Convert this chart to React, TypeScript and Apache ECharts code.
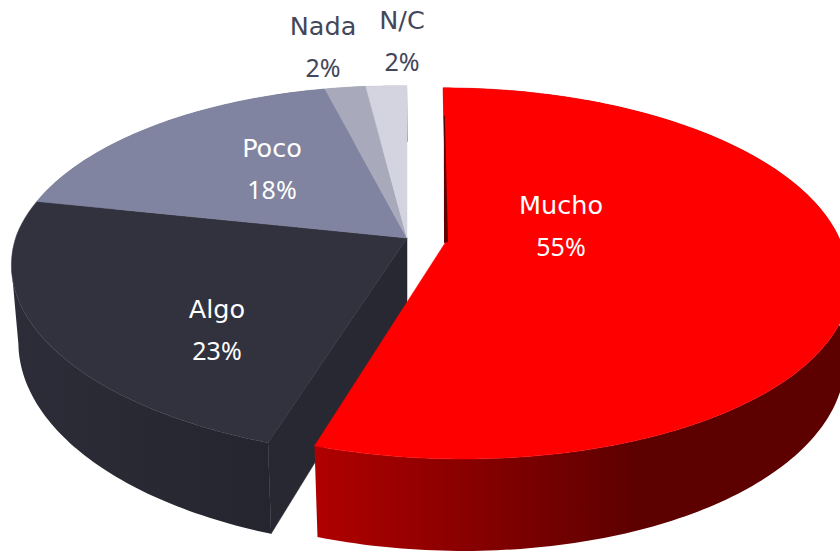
import React, { useEffect, useRef } from "react";
import * as echarts from "echarts";

const categories = ["Mucho", "Algo", "Poco", "Nada", "N/C"];
const values = [55, 23, 18, 2, 2];
const percentLabels = ["55%", "23%", "18%", "2%", "2%"];

const topColors = ["#ff0000", "#31323e", "#8184a0", "#a8aabc", "#d3d4e0"];
const wallColors = ["#600000", "#282933", "#5c5e74", "#787a88", "#9899a2"];
const labelColors = ["#ffffff", "#ffffff", "#ffffff", "#44465a", "#44465a"];
const labelAnchors = [
  [561, 225],
  [217, 329],
  [272, 168],
  [323, 46],
  [402, 40],
];

const K = 0.187;
const centers = [[447, 240], [407, 238]];
const frontShear = [16, 8];
const backShear = [4, 0];
const radiusX = [393, 390];
const leftTilt = [0, 4];
const total = values.reduce((a, b) => a + b, 0);

function project(g: number, cx: number, cy: number, a: number, r: number): number[] {
  const u = r * Math.sin(a);
  const v = -r * Math.cos(a);
  const d = 1 - K * v;
  const shear = v > 0 ? frontShear[g] * v : backShear[g] * v;
  const sy = v > 0 ? 178 : 180.6;
  const tilt = u < 0 ? leftTilt[g] * u : 0;
  return [cx + (radiusX[g] * u) / d + shear, cy + (sy * v) / d + tilt];
}
function lower(p: number[], cx: number, a: number, r: number): number[] {
  const v = -r * Math.cos(a);
  return [cx + (p[0] - cx) * 0.985 + 1, p[1] + 74 + 18 * v];
}
function leftmost(arc: number[][]): number {
  let best = 0;
  arc.forEach((p, k) => {
    if (p[0] < arc[best][0]) best = k;
  });
  return best;
}

function renderItem(params: any) {
  const i = params.dataIndex;
  const g = i === 0 ? 0 : 1;
  let before = 0;
  for (let k = 0; k < i; k++) before += values[k];
  const a0 = (before / total) * Math.PI * 2;
  const a1 = ((before + values[i]) / total) * Math.PI * 2;
  const [cx, cy] = centers[g];
  const steps = Math.max(4, Math.round((a1 - a0) * 60));
  const topArc: number[][] = [];
  const lowArc: number[][] = [];
  for (let s = 0; s <= steps; s++) {
    const a = a0 + ((a1 - a0) * s) / steps;
    const p = project(g, cx, cy, a, 1);
    topArc.push(p);
    lowArc.push(lower(p, cx, a, 1));
  }
  const base = i === 0 ? 3 : 0;
  const wallFill =
    i === 0
      ? new echarts.graphic.LinearGradient(316, 0, 640, 0, [
          { offset: 0, color: "#b00000" },
          { offset: 0.45, color: "#8a0000" },
          { offset: 1, color: "#5c0000" },
        ], true)
      : i === 1
      ? new echarts.graphic.LinearGradient(10, 0, 270, 0, [
          { offset: 0, color: "#2c2d38" },
          { offset: 1, color: "#24252e" },
        ], true)
      : wallColors[i];
  const wallTop = i === 1 ? topArc.slice(0, leftmost(topArc) + 1) : topArc;
  const wallLow = i === 1 ? lowArc.slice(0, leftmost(lowArc) + 1) : lowArc;
  const children: any[] = [
    {
      type: "polygon",
      z2: base + 1,
      shape: { points: wallTop.concat(wallLow.slice().reverse()) },
      style: { fill: wallFill },
    },
  ];
  if (i === 1) {
    children.push({
      type: "polygon",
      z2: 1,
      shape: { points: [[cx, cy], topArc[0], lowArc[0], [cx, cy + 75]] },
      style: { fill: "#272831", stroke: "#272831", lineWidth: 0.5 },
    });
  }
  children.push({
    type: "polygon",
    z2: base + 2,
    shape: { points: [[cx, cy]].concat(topArc) },
    style: { fill: topColors[i], stroke: topColors[i], lineWidth: 0.5 },
  });
  if (i === 0) {
    const s = project(g, cx, cy, 0, 0.79);
    children.push({
      type: "polygon",
      z2: base + 3,
      shape: { points: [s, [cx - 3, cy + 3], [cx + 1, cy + 2], [s[0] + 1, s[1]]] },
      style: { fill: "#600000" },
    });
  }
  children.push({
    type: "text",
    z2: 20,
    x: labelAnchors[i][0],
    y: labelAnchors[i][1],
    style: {
      text: "{n|" + categories[i] + "}\n{p|" + percentLabels[i] + "}",
      align: "center",
      verticalAlign: "middle",
      rich: {
        n: { fontFamily: "DejaVu Sans", fontSize: 25.5, lineHeight: 41, fill: labelColors[i] },
        p: { fontFamily: "Noto Sans", fontSize: 25, lineHeight: 40, fill: labelColors[i] },
      },
    },
  });
  return { type: "group", children };
}

export default function App() {
  const ref = useRef<HTMLDivElement>(null);
  useEffect(() => {
    document.body.style.margin = "0";
    document.body.style.background = "#ffffff";
    const chart = echarts.init(ref.current!, null, { renderer: "svg" });
    chart.setOption({
      animation: false,
      backgroundColor: "#ffffff",
      series: [
        {
          type: "custom",
          coordinateSystem: "none",
          renderItem,
          data: values.map((v, i) => [i, v]),
          silent: true,
        },
      ],
    });
    return () => chart.dispose();
  }, []);
  return <div ref={ref} style={{ width: 840, height: 551 }} />;
}
